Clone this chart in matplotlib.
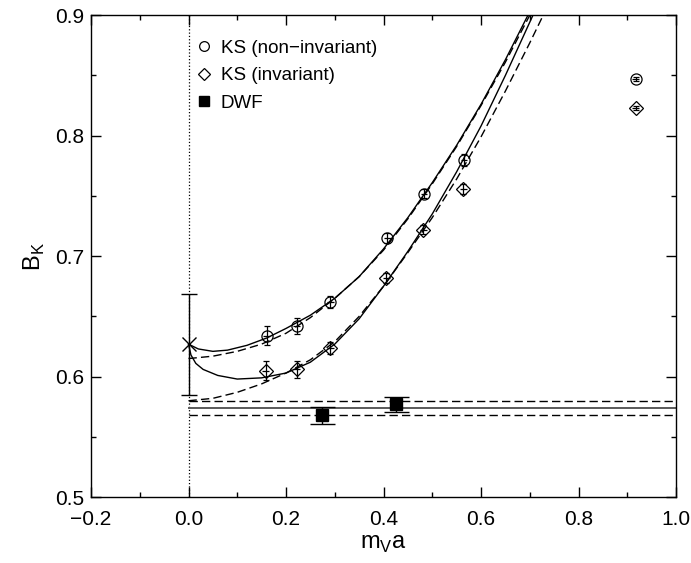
import numpy as np
import matplotlib
matplotlib.use("Agg")
import matplotlib.pyplot as plt
from matplotlib.lines import Line2D

""" =======================  Data read off the picture ========================== """

# KS (non-invariant) points
ks_ni_x = [0.160, 0.222, 0.291, 0.408, 0.483, 0.565, 0.917]
ks_ni_y = [0.634, 0.642, 0.662, 0.715, 0.752, 0.780, 0.847]
ks_ni_err = [0.008, 0.007, 0.005, 0.004, 0.004, 0.005, 0.002]

# KS (invariant) points
ks_inv_x = [0.158, 0.222, 0.291, 0.406, 0.482, 0.564, 0.917]
ks_inv_y = [0.605, 0.606, 0.624, 0.682, 0.722, 0.756, 0.823]
ks_inv_err = [0.008, 0.007, 0.005, 0.004, 0.004, 0.004, 0.002]

# DWF points
dwf_x = [0.274, 0.425]
dwf_y = [0.568, 0.577]
dwf_err = [0.007, 0.006]

# DWF band (central value +- error)
dwf_band = 0.574
dwf_band_err = 0.006

# extrapolated value at m_V a = 0
extrap_x = [0.0]
extrap_y = [0.627]
extrap_err = [0.042]

# fit curves
fit_ni_x = [0.0, 0.02, 0.05, 0.08, 0.12, 0.16, 0.20, 0.25, 0.30, 0.35, 0.40, 0.45, 0.50, 0.55, 0.60, 0.65, 0.70]
fit_ni_y = [0.627, 0.623, 0.621, 0.622, 0.626, 0.632, 0.640, 0.651, 0.665, 0.683, 0.706, 0.732, 0.761, 0.792, 0.826, 0.863, 0.903]

fit_ni_dash_x = [0.0, 0.05, 0.10, 0.15, 0.20, 0.25, 0.30, 0.35, 0.40, 0.45, 0.50, 0.55, 0.60, 0.65, 0.70]
fit_ni_dash_y = [0.615, 0.617, 0.621, 0.627, 0.636, 0.649, 0.665, 0.683, 0.705, 0.731, 0.760, 0.791, 0.825, 0.861, 0.900]

fit_inv_x = [0.0, 0.005, 0.015, 0.03, 0.06, 0.10, 0.15, 0.20, 0.25, 0.30, 0.35, 0.40, 0.45, 0.50, 0.55, 0.60, 0.65, 0.71]
fit_inv_y = [0.627, 0.618, 0.611, 0.606, 0.601, 0.598, 0.599, 0.603, 0.612, 0.627, 0.648, 0.675, 0.704, 0.735, 0.770, 0.808, 0.850, 0.903]

fit_inv_dash_x = [0.0, 0.05, 0.10, 0.15, 0.20, 0.25, 0.30, 0.35, 0.40, 0.45, 0.50, 0.55, 0.60, 0.65, 0.70, 0.73]
fit_inv_dash_y = [0.580, 0.582, 0.587, 0.594, 0.603, 0.614, 0.629, 0.650, 0.675, 0.703, 0.732, 0.764, 0.799, 0.837, 0.877, 0.902]

x_ticks = [-0.2, 0.0, 0.2, 0.4, 0.6, 0.8, 1.0]
x_labels = ['\u22120.2', '0.0', '0.2', '0.4', '0.6', '0.8', '1.0']
y_ticks = [0.5, 0.6, 0.7, 0.8, 0.9]
y_labels = ['0.5', '0.6', '0.7', '0.8', '0.9']

""" =======================  Plot ========================== """

plt.rcParams['font.family'] = ['Liberation Sans', 'DejaVu Sans']

fig = plt.figure(figsize=(6.91, 5.63), dpi=100)
ax = fig.add_axes([0.1317, 0.117, 0.8466, 0.856])

dash = (0, (6, 3))

# zero line
ax.axvline(0.0, color='black', ls=':', lw=0.9)

# fits
ax.plot(fit_ni_x, fit_ni_y, color='black', lw=1.0)
ax.plot(fit_ni_dash_x, fit_ni_dash_y, color='black', lw=1.0, ls=dash)
ax.plot(fit_inv_x, fit_inv_y, color='black', lw=1.0)
ax.plot(fit_inv_dash_x, fit_inv_dash_y, color='black', lw=1.0, ls=dash)

# DWF band
ax.plot([0.0, 1.0], [dwf_band, dwf_band], color='0.35', lw=1.4)
ax.plot([0.0, 1.0], [dwf_band + dwf_band_err] * 2, color='black', lw=1.0, ls=dash)
ax.plot([0.0, 1.0], [dwf_band - dwf_band_err] * 2, color='black', lw=1.0, ls=dash)

# KS data: hollow symbols with the error bar visible through them
for xs, ys, es, mk, ms in [(ks_ni_x, ks_ni_y, ks_ni_err, 'o', 8),
                           (ks_inv_x, ks_inv_y, ks_inv_err, 'D', 7.5)]:
    ax.errorbar(xs, ys, yerr=es, fmt=mk, ms=ms, mfc='none', mec='black', mew=0.9,
                ecolor='black', elinewidth=0.9, capsize=2.0, capthick=0.9, zorder=5)
    ax.errorbar(xs, ys, xerr=0.007, fmt='none', ecolor='black', elinewidth=0.9,
                capsize=0, zorder=5)

ax.errorbar(dwf_x, dwf_y, yerr=dwf_err, fmt='s', ms=8.5, mfc='black', mec='black',
            ecolor='black', elinewidth=1.0, capsize=9, capthick=1.0, zorder=5)
ax.errorbar(extrap_x, extrap_y, yerr=extrap_err, fmt='x', ms=10, mec='black', mew=1.0,
            ecolor='black', elinewidth=1.0, capsize=5.5, capthick=1.0, zorder=5)

# axes
ax.set_xlim(-0.2, 1.0)
ax.set_ylim(0.5, 0.9)
ax.set_xticks(x_ticks)
ax.set_yticks(y_ticks)
ax.set_xticklabels(x_labels)
ax.set_yticklabels(y_labels)
ax.set_xticks(np.arange(-0.2, 1.01, 0.1), minor=True)
ax.set_yticks(np.arange(0.5, 0.901, 0.05), minor=True)
ax.tick_params(which='both', direction='in', top=True, right=True, labelsize=15, width=1.0)
ax.tick_params(which='major', length=7)
ax.tick_params(which='minor', length=3.5)
ax.tick_params(axis='x', which='major', pad=9)
ax.tick_params(axis='y', which='major', pad=5)
for s in ax.spines.values():
    s.set_linewidth(1.0)

ax.set_xlabel(r'm$_\mathregular{V}$a', fontsize=17, labelpad=3)
ax.set_ylabel(r'B$_\mathregular{K}$', fontsize=17, labelpad=6)

# legend
handles = [
    Line2D([], [], ls='none', marker='o', ms=7, mfc='white', mec='black', mew=0.9),
    Line2D([], [], ls='none', marker='D', ms=6, mfc='white', mec='black', mew=0.9),
    Line2D([], [], ls='none', marker='s', ms=7, mfc='black', mec='black'),
]
ax.legend(handles, ['KS (non\u2212invariant)', 'KS (invariant)', 'DWF'],
          loc='upper left', bbox_to_anchor=(0.167, 0.965), frameon=False,
          fontsize=13.5, handlelength=0.8, handletextpad=0.5, labelspacing=0.55,
          borderaxespad=0.0)

fig.savefig('out.png', dpi=100)
